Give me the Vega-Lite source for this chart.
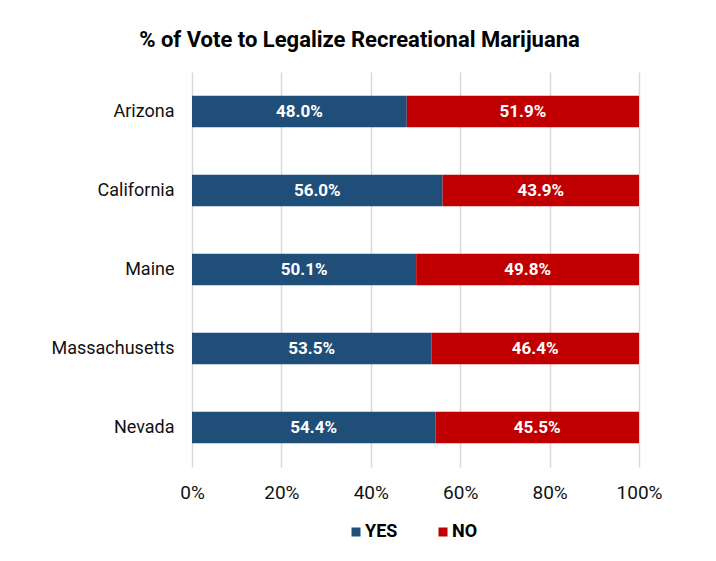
{
  "$schema": "https://vega.github.io/schema/vega-lite/v6.json",
  "width": 447,
  "height": 395,
  "autosize": {"type": "none"},
  "padding": {"left": 192, "top": 72, "right": 77, "bottom": 94},
  "background": "white",
  "title": {
    "text": "% of Vote to Legalize Recreational Marijuana",
    "anchor": "middle",
    "dx": -56,
    "offset": 20,
    "font": "Roboto, sans-serif",
    "fontSize": 22,
    "fontWeight": "bold",
    "color": "#000000"
  },
  "data": {
    "values": [
      {"state": "Arizona", "vote": "YES", "pct": 0.480, "ord": 1},
      {"state": "Arizona", "vote": "NO", "pct": 0.519, "ord": 2},
      {"state": "California", "vote": "YES", "pct": 0.560, "ord": 1},
      {"state": "California", "vote": "NO", "pct": 0.439, "ord": 2},
      {"state": "Maine", "vote": "YES", "pct": 0.501, "ord": 1},
      {"state": "Maine", "vote": "NO", "pct": 0.498, "ord": 2},
      {"state": "Massachusetts", "vote": "YES", "pct": 0.535, "ord": 1},
      {"state": "Massachusetts", "vote": "NO", "pct": 0.464, "ord": 2},
      {"state": "Nevada", "vote": "YES", "pct": 0.544, "ord": 1},
      {"state": "Nevada", "vote": "NO", "pct": 0.455, "ord": 2}
    ]
  },
  "encoding": {
    "y": {
      "field": "state",
      "type": "nominal",
      "sort": ["Arizona", "California", "Maine", "Massachusetts", "Nevada"],
      "scale": {"paddingInner": 0.6, "paddingOuter": 0.3},
      "axis": {
        "title": null,
        "domain": false,
        "ticks": false,
        "labelPadding": 18,
        "labelFontSize": 18,
        "labelFont": "Roboto, sans-serif",
        "labelColor": "#111111"
      }
    },
    "order": {"field": "ord", "type": "quantitative"}
  },
  "layer": [
    {
      "mark": {"type": "bar"},
      "encoding": {
        "x": {
          "field": "pct",
          "type": "quantitative",
          "stack": "normalize",
          "scale": {"domain": [0, 1], "nice": false},
          "axis": {
            "title": null,
            "values": [0, 0.2, 0.4, 0.6, 0.8, 1],
            "format": ".0%",
            "grid": true,
            "gridColor": "#d9d9d9",
            "gridWidth": 1.5,
            "domain": false,
            "ticks": false,
            "labelFlush": false,
            "labelPadding": 16,
            "labelFontSize": 19,
            "labelFont": "Roboto, sans-serif",
            "labelColor": "#111111"
          }
        },
        "color": {
          "field": "vote",
          "type": "nominal",
          "scale": {"domain": ["YES", "NO"], "range": ["#1f4e79", "#c00000"]},
          "legend": {
            "title": null,
            "orient": "none",
            "legendX": 155,
            "legendY": 451,
            "padding": 0,
            "direction": "horizontal",
            "symbolType": "square",
            "symbolSize": 81,
            "symbolStrokeWidth": 0,
            "labelFontSize": 18,
            "labelFontWeight": "bold",
            "labelFont": "Roboto, sans-serif",
            "labelColor": "#000000",
            "labelOffset": 0,
            "columnPadding": 36
          }
        }
      }
    },
    {
      "mark": {
        "type": "text",
        "color": "white",
        "fontWeight": "bold",
        "fontSize": 17,
        "font": "Roboto, sans-serif",
        "baseline": "middle",
        "align": "center"
      },
      "encoding": {
        "x": {"field": "pct", "type": "quantitative", "stack": "normalize", "bandPosition": 0.5},
        "text": {"field": "pct", "type": "quantitative", "format": ".1%"}
      }
    }
  ],
  "config": {"view": {"stroke": null}}
}
